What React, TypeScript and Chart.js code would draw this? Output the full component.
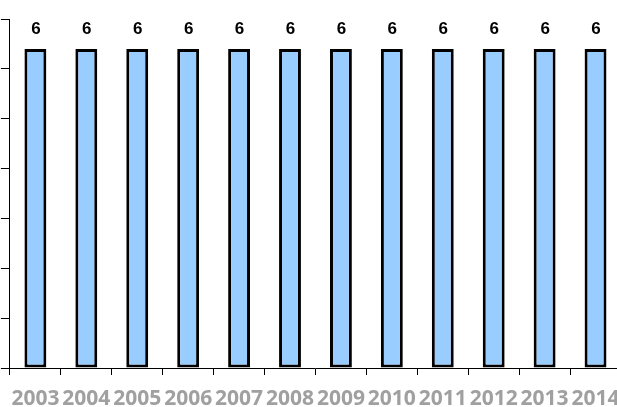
import React, { useEffect, useRef } from "react";
import { Chart, registerables } from "chart.js";

Chart.register(...registerables);

const years = ["2003", "2004", "2005", "2006", "2007", "2008", "2009", "2010", "2011", "2012", "2013", "2014"];
const values = [6, 6, 6, 6, 6, 6, 6, 6, 6, 6, 6, 6];
const yMax = 6.5625;
const yStep = 0.9375;

const valueLabels = {
  id: "valueLabels",
  afterDatasetsDraw(chart: any) {
    const ctx = chart.ctx;
    const meta = chart.getDatasetMeta(0);
    ctx.save();
    ctx.font = "bold 17px 'Liberation Sans', Arial, sans-serif";
    ctx.fillStyle = "#000000";
    ctx.textAlign = "center";
    ctx.textBaseline = "middle";
    meta.data.forEach((bar: any, i: number) => {
      ctx.fillText(String(values[i]), bar.x + 0.5, bar.y - 20);
    });
    ctx.restore();
  },
};

export default function App() {
  const ref = useRef<HTMLCanvasElement>(null);
  useEffect(() => {
    if (!ref.current) return;
    const chart = new Chart(ref.current, {
      type: "bar",
      data: {
        labels: years,
        datasets: [
          {
            data: values,
            backgroundColor: "#99CCFF",
            borderColor: "#000000",
            borderWidth: 3,
            borderSkipped: false,
            categoryPercentage: 1,
            barPercentage: 0.43,
          },
        ],
      },
      options: {
        responsive: false,
        animation: false,
        layout: { padding: { top: 19, right: 19, left: 0, bottom: 0 } },
        plugins: { legend: { display: false }, tooltip: { enabled: false } },
        scales: {
          x: {
            offset: true,
            grid: {
              offset: true,
              drawOnChartArea: false,
              drawTicks: true,
              tickLength: 7,
              color: "#000000",
            },
            border: { display: true, color: "#000000", width: 1 },
            ticks: {
              autoSkip: false,
              maxRotation: 0,
              minRotation: 0,
              padding: 11,
              color: "#A0A0A0",
              font: { family: "'Open Sans', 'Liberation Sans', sans-serif", size: 21, weight: "bold" },
            },
            afterFit: (scale: any) => {
              scale.height = 39;
            },
          },
          y: {
            min: 0,
            max: yMax,
            grid: {
              drawOnChartArea: false,
              drawTicks: true,
              tickLength: 9,
              color: "#000000",
            },
            border: { display: true, color: "#000000", width: 1 },
            ticks: { stepSize: yStep, color: "rgba(0,0,0,0)", padding: 0 },
            afterFit: (scale: any) => {
              scale.width = 9;
            },
          },
        },
      },
      plugins: [valueLabels],
    });
    return () => chart.destroy();
  }, []);
  return (
    <div style={{ position: "absolute", left: 0, top: 0, width: 617, height: 407, overflow: "hidden", background: "#fff" }}>
      <canvas ref={ref} width={640} height={407} style={{ display: "block" }} />
    </div>
  );
}
